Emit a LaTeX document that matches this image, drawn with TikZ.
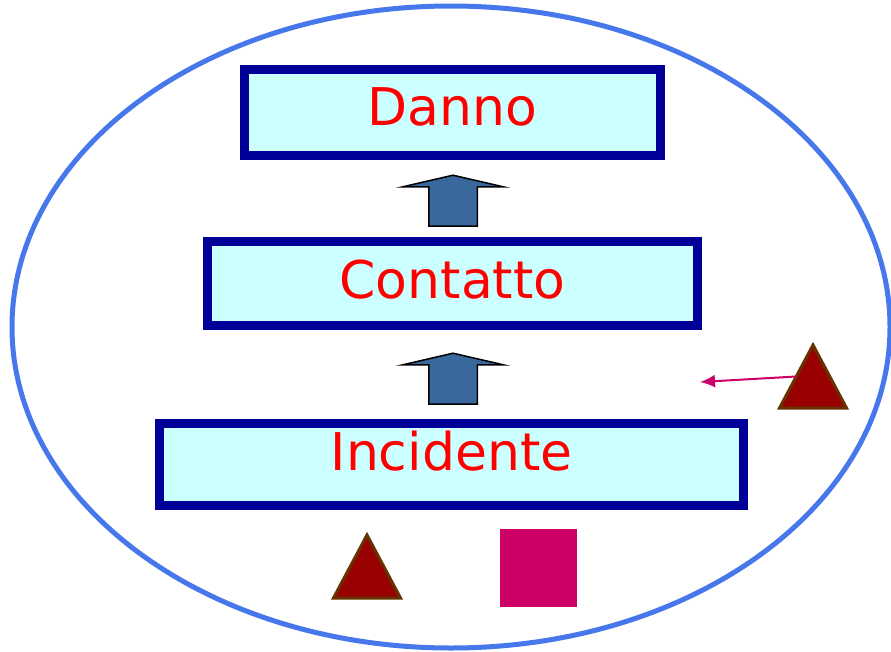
\documentclass[tikz,border=0pt]{standalone}
\usepackage{fontspec}
\setmainfont{DejaVu Sans}
\usetikzlibrary{shapes.geometric, shapes.arrows, arrows.meta}
\definecolor{ringblue}{RGB}{70,120,235}
\definecolor{stageblue}{RGB}{0,0,153}
\definecolor{stagefill}{RGB}{204,255,255}
\definecolor{arrowblue}{RGB}{56,104,156}
\definecolor{hazardred}{RGB}{153,0,0}
\definecolor{hazardbrown}{RGB}{102,51,0}
\definecolor{magenta}{RGB}{204,0,102}
\tikzstyle{stage} = [draw=stageblue, fill=stagefill, line width=9pt, text=red, font=\fontsize{52}{60}\selectfont, text height=38pt, inner sep=0pt]
\tikzstyle{uparrow} = [draw=black, fill=arrowblue, line width=1.5pt, single arrow, shape border rotate=90, inner xsep=23.5pt, inner ysep=0pt, minimum width=100pt, minimum height=51pt, single arrow head extend=26.5pt, single arrow tip angle=154]
\tikzstyle{hazard} = [draw=hazardbrown, fill=hazardred, line width=3pt, isosceles triangle, isosceles triangle apex angle=56, isosceles triangle stretches, shape border rotate=90, inner sep=0pt, outer sep=0pt, minimum width=67pt, minimum height=63pt, anchor=apex]

\begin{document}
\begin{tikzpicture}[x=1pt, y=-1pt]
            \useasboundingbox (0,0) rectangle (891,651);
            % Defining nodes
            \node[draw=ringblue, ellipse, line width=5pt, minimum width=878pt, minimum height=642pt] (Context) at (451,327) {};
            \node[stage, minimum width=416pt, minimum height=86pt, text depth=12pt] (Danno) at (452.5,112.5) {Danno};
            \node[stage, minimum width=490pt, minimum height=84pt, text depth=8pt] (Contatto) at (452.5,283) {Contatto};
            \node[stage, minimum width=584pt, minimum height=82pt, text depth=26pt] (Incidente) at (451.5,464) {Incidente};
            \node[uparrow] (StepUp) at (453,203.5) {};
            \node[uparrow] (FirstUp) at (453,381.5) {};
            \node[hazard] (SideHazard) at (813,345) {};
            \node[hazard] (LowHazard) at (367,535) {};
            \node[fill=magenta, rectangle, minimum width=77pt, minimum height=78pt] (Guard) at (538.5,568) {};
            \coordinate (Target) at (700,382);

            % Drawing diagram
            \draw[magenta, line width=2pt, -{Latex[length=15pt,width=13pt]}] (SideHazard.left side) -- (Target);
\end{tikzpicture}
\end{document}
